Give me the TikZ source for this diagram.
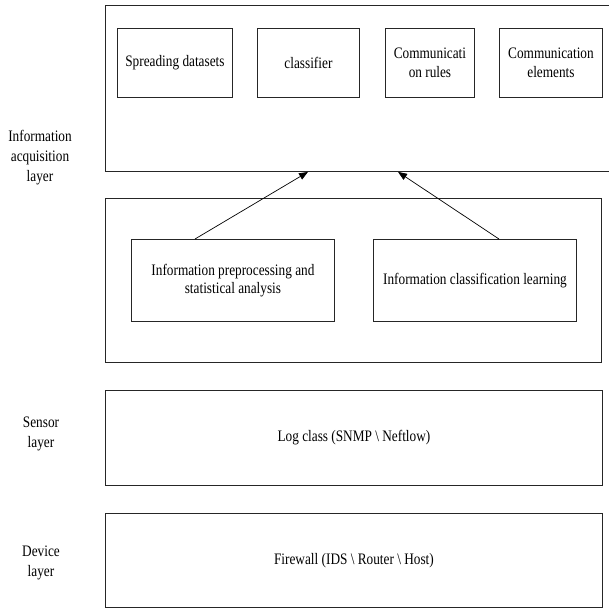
\documentclass[tikz,border=0pt]{standalone}
\usepackage{fontspec}
\setmainfont[FakeStretch=0.83]{Liberation Serif}
\usetikzlibrary{arrows.meta,calc}
\begin{document}
\begin{tikzpicture}[x=1pt,y=-1pt,
  box/.style={draw=black!85, line width=0.9pt, inner sep=0pt, anchor=north west,
              align=center, font=\fontsize{16}{18.5}\selectfont},
  lbl/.style={align=center, font=\fontsize{16}{20}\selectfont},
  arr/.style={-{Triangle[length=9pt,width=7pt]}, line width=0.7pt}]
\useasboundingbox (0,0) rectangle (609,608);
% information acquisition layer
\node[box, minimum width=507pt, minimum height=166pt] (top) at (105,5) {};
\node[box, minimum width=115pt, minimum height=69pt] (s1) at (117,28) {Spreading datasets};
\node[box, minimum width=102pt, minimum height=69pt] (s2) at (257,28) {classifier};
\node[box, minimum width=89pt, minimum height=69pt] (s3) at (385,28) {Communicati\\on rules};
\node[box, minimum width=103pt, minimum height=69pt] (s4) at (499,28) {Communication\\elements};
\node[box, minimum width=496pt, minimum height=164pt] (mid) at (105,198) {};
\node[box, minimum width=203pt, minimum height=82pt] (i1) at (131,239) {Information preprocessing and\\statistical analysis};
\node[box, minimum width=203pt, minimum height=82pt] (i2) at (373,239) {Information classification learning};
\draw[arr] ($(i1.north west)+(64,0)$) -- ($(top.south west)+(203,0)$);
\draw[arr] ($(i2.north west)+(126,0)$) -- ($(top.south west)+(293,0)$);
% sensor and device layers
\node[box, minimum width=497pt, minimum height=95pt] (sens) at (105,390) {Log class (SNMP \textbackslash\ Neftlow)};
\node[box, minimum width=497pt, minimum height=94pt] (dev) at (105,513) {Firewall (IDS \textbackslash\ Router \textbackslash\ Host)};
% side labels
\node[lbl] (l1) at (40,158) {Information\\acquisition\\layer};
\node[lbl] (l2) at (41,434) {Sensor\\layer};
\node[lbl] (l3) at (41,563) {Device\\layer};
\end{tikzpicture}
\end{document}
